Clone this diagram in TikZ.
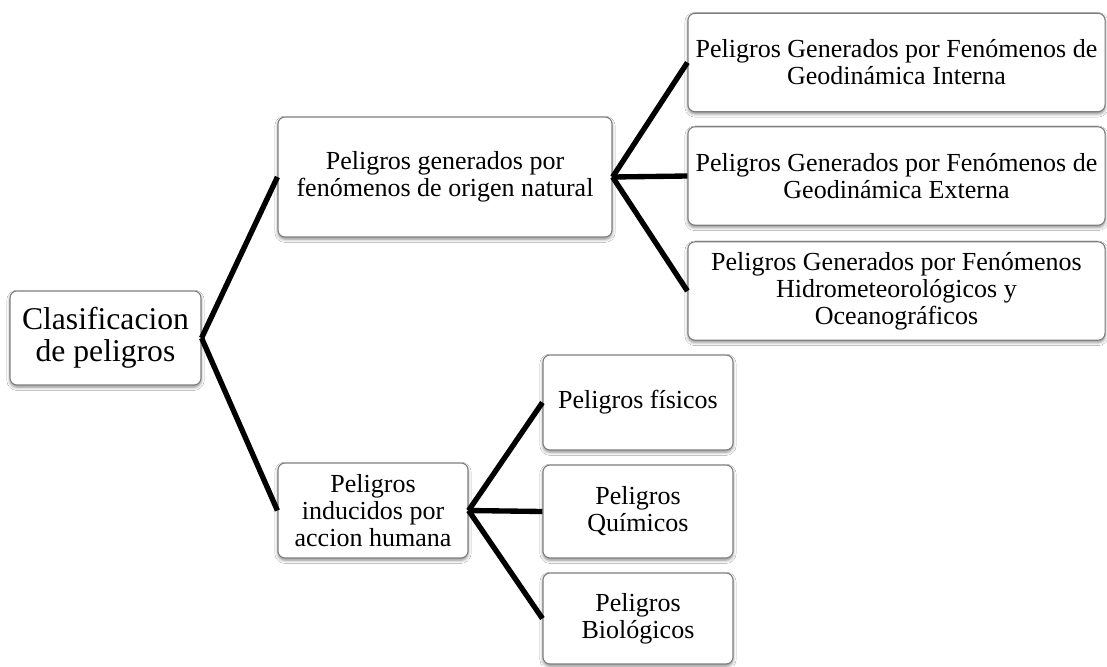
\documentclass[tikz,border=0pt]{standalone}
\usepackage{fontspec}
\setmainfont{Liberation Serif}
\usepackage{tikz}
\usetikzlibrary{positioning,shadows.blur}
\definecolor{bordegris}{HTML}{7F7F7F}
\tikzset{
  caja/.style={rounded corners=5pt, draw=bordegris, line width=0.8pt, fill=white,
               align=center, inner sep=0pt,
               font=\fontsize{18.5}{19.2}\selectfont,
               blur shadow={shadow xshift=0pt, shadow yshift=-1.6pt,
                            shadow blur radius=2.2pt, shadow opacity=45}},
  rama/.style={line width=3.8pt, draw=black},
}

\begin{document}
\begin{tikzpicture}[x=0.025cm, y=-0.025cm]
\fill[white] (0,0) rectangle (1107,666);
\useasboundingbox (0,0) rectangle (1107,666);

% ---------- raiz y primer nivel -----------------------------------------
\node[caja, minimum width=4.775cm, minimum height=2.35cm,
      font=\fontsize{22.5}{23}\selectfont] (raiz) at (105.5,338)
   {Clasificacion\\de peligros};
\node[caja, minimum width=8.35cm, minimum height=3cm] (natural) at (445,177)
   {Peligros generados por\\fen\'omenos de origen natural};
\node[caja, minimum width=4.75cm, minimum height=2.375cm] (humano) at (373,510.5)
   {Peligros\\inducidos por\\accion humana};
\draw[rama] (raiz.east) -- (natural.west);
\draw[rama] (raiz.east) -- (humano.west);

% ---------- origen natural ----------------------------------------------
\foreach \y/\nm/\txt in {
    62.5/interna/{Peligros Generados por Fen\'omenos de\\Geodin\'amica Interna},
    176/externa/{Peligros Generados por Fen\'omenos de\\Geodin\'amica Externa},
    291/hidro/{Peligros Generados por Fen\'omenos\\Hidrometeorol\'ogicos y\\Oceanogr\'aficos}}{
  \node[caja, minimum width=10.425cm, minimum height=2.46cm] (\nm) at (896.5,\y) {\txt};}
\foreach \nm in {interna,externa,hidro}{
  \draw[rama] (natural.east) -- (\nm.west);}

% ---------- inducidos por el hombre -------------------------------------
\foreach \y/\h/\nm/\txt in {
    402.5/2.375/fisicos/{Peligros f\'isicos},
    511.5/2.325/quimicos/{Peligros\\Qu\'imicos},
    618.5/2.275/biologicos/{Peligros\\Biol\'ogicos}}{
  \node[caja, minimum width=4.75cm, minimum height=\h cm] (\nm) at (638,\y) {\txt};}
\foreach \nm in {fisicos,quimicos,biologicos}{
  \draw[rama] (humano.east) -- (\nm.west);}
\end{tikzpicture}
\end{document}
